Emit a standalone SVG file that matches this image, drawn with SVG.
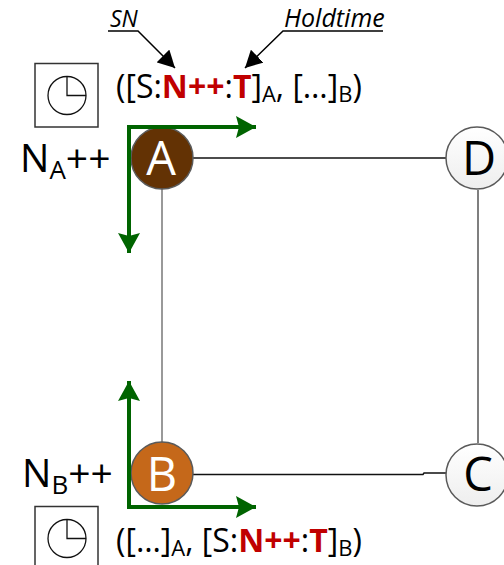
<svg xmlns="http://www.w3.org/2000/svg" width="504" height="565" viewBox="0 0 504 565">
<style>
text{font-family:"Open Sans","Noto Sans","Liberation Sans",sans-serif;fill:#000}
.t{font-size:32px}
.s{font-size:22px}
.r{fill:#c00000;font-weight:700}
.n{font-size:47px;text-anchor:middle}
.l{font-size:39px}
.i{font-style:italic}
.nd{stroke:#5a5a5a;stroke-width:1.500}
.box{fill:#fff;stroke:#333;stroke-width:1.500}
.clk{fill:none;stroke:#111;stroke-width:1.300}
.g{fill:none;stroke:#006400;stroke-width:4}
.k{fill:none;stroke:#000;stroke-width:1.500}
</style>
<defs>
<marker id="ga" markerUnits="userSpaceOnUse" markerWidth="22" markerHeight="22" refX="20" refY="11" orient="auto"><path d="M0 0L20 11L0 22L3 11Z" fill="#006400"/></marker>
<marker id="ka" markerUnits="userSpaceOnUse" markerWidth="18" markerHeight="18" refX="17" refY="9" orient="auto"><path d="M0 0L17 9L0 18Z" fill="#000"/></marker>
<linearGradient id="w" x1="0" y1="0" x2="0" y2="1"><stop offset="0" stop-color="#fff"/><stop offset="1" stop-color="#eee"/></linearGradient>
</defs>
<g id="connectors">
<path class="k" style="stroke:#111" d="M193 158H446"/>
<path class="k" style="stroke:#111" d="M193 474.500H423L424 473H446"/>
<path class="k" style="stroke:#777" d="M162 189V442"/>
<path class="k" style="stroke:#555" d="M478 190V443"/>
</g>
<g id="node-a"><circle class="nd" cx="162" cy="158" r="31" fill="#633204"/><text class="n" x="161" y="175" style="fill:#fff">A</text></g>
<g id="node-b"><circle class="nd" cx="162" cy="473" r="31" fill="#c5681a"/><text class="n" x="162" y="491" style="fill:#fff">B</text></g>
<g id="node-d"><circle class="nd" cx="477" cy="158" r="31" fill="url(#w)"/><text class="n" x="479" y="175">D</text></g>
<g id="node-c"><circle class="nd" cx="477" cy="475" r="31" fill="url(#w)"/><text class="n" x="478" y="491">C</text></g>
<g id="flows">
<path class="g" d="M129 127V253" marker-end="url(#ga)"/>
<path class="g" d="M127 127H256" marker-end="url(#ga)"/>
<path class="g" d="M129 507V381" marker-end="url(#ga)"/>
<path class="g" d="M127 507H256" marker-end="url(#ga)"/>
</g>
<g id="clock-a"><rect class="box" x="35" y="63.500" width="63" height="63.500"/><circle class="clk" cx="67" cy="95.500" r="19"/><path class="clk" d="M67 76.500V95.500H86"/></g>
<g id="clock-b"><rect class="box" x="35" y="506.500" width="63" height="64"/><circle class="clk" cx="67" cy="538.500" r="19"/><path class="clk" d="M67 519.500V538.500H86"/></g>
<g id="label-na"><text class="l" x="20" y="171.500">N<tspan font-size="26" dy="7">A</tspan><tspan dy="-7">++</tspan></text></g>
<g id="label-nb"><text class="l" x="22" y="487">N<tspan font-size="26" dy="7">B</tspan><tspan dy="-7">++</tspan></text></g>
<g id="tuple-a"><text class="t" x="116" y="98">([S:<tspan class="r">N++</tspan>:<tspan class="r">T</tspan>]<tspan class="s" dy="4">A</tspan><tspan dy="-4">, […]</tspan><tspan class="s" dy="4">B</tspan><tspan dy="-4">)</tspan></text></g>
<g id="tuple-b"><text class="t" x="116" y="552">([…]<tspan class="s" dy="4">A</tspan><tspan dy="-4">, [S:</tspan><tspan class="r">N++</tspan>:<tspan class="r">T</tspan>]<tspan class="s" dy="4">B</tspan><tspan dy="-4">)</tspan></text></g>
<g id="label-sn"><text class="i" font-size="23" x="110" y="27">SN</text><path class="k" d="M108 31H138L175 68" marker-end="url(#ka)"/></g>
<g id="label-holdtime"><text class="i" font-size="25" x="284" y="27">Holdtime</text><path class="k" d="M383 31H283L245 68" marker-end="url(#ka)"/></g>
</svg>
